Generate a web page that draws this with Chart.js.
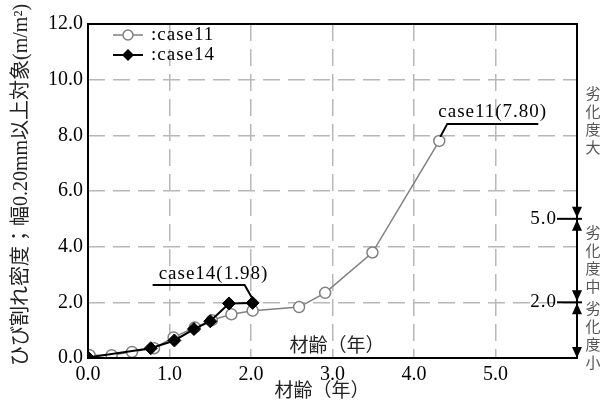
<!DOCTYPE html>
<html>
<head>
<meta charset="utf-8">
<script src="https://cdn.jsdelivr.net/npm/chart.js@4"></script>
<style>
  html, body { margin: 0; padding: 0; background: #fff; }
</style>
</head>
<body>
<canvas id="chart" width="608" height="405"></canvas>
<script>
// 材齢（年）とひび割れ密度
const age11     = [0.02, 0.29, 0.54, 0.81, 1.05, 1.31, 1.52, 1.76, 2.02, 2.59, 2.91, 3.49, 4.31];
const density11 = [0.10, 0.10, 0.22, 0.35, 0.74, 1.10, 1.36, 1.57, 1.70, 1.83, 2.34, 3.79, 7.80];
const age14     = [0.00, 0.77, 1.06, 1.30, 1.50, 1.73, 2.02];
const density14 = [0.02, 0.35, 0.63, 1.04, 1.32, 1.96, 1.98];

const xTicks = [0, 1, 2, 3, 4, 5];
const yTicks = [0, 2, 4, 6, 8, 10, 12];
const levelBounds = [5.0, 2.0];   // 劣化度の境界

const SERIF = "'Liberation Serif', 'Noto Sans CJK JP', serif";
const pts = (xs, ys) => xs.map((x, i) => ({ x: x, y: ys[i] }));

function triangle(ctx, x, tipY, dir) {
    // dir = 1 : 下向き, -1 : 上向き
    ctx.beginPath();
    ctx.moveTo(x, tipY);
    ctx.lineTo(x - 5, tipY - dir * 11);
    ctx.lineTo(x + 5, tipY - dir * 11);
    ctx.closePath();
    ctx.fill();
}

const extras = {
    id: 'extras',
    beforeInit(chart) {
        // 参照図の数字は字間が広い
        chart.ctx.letterSpacing = '1px';
    },
    afterDraw(chart) {
        const { ctx, chartArea: a, scales: { x: xs, y: ys } } = chart;
        ctx.save();

        // 枠
        ctx.strokeStyle = '#000';
        ctx.lineWidth = 2;
        ctx.strokeRect(a.left, a.top, a.right - a.left, a.bottom - a.top);
        ctx.beginPath(); ctx.moveTo(a.right, a.top); ctx.lineTo(a.right, a.bottom); ctx.stroke();

        // 軸タイトル
        ctx.letterSpacing = '0px';
        ctx.fillStyle = '#222';
        ctx.font = '19px ' + SERIF;
        ctx.textAlign = 'center';
        ctx.textBaseline = 'middle';
        ctx.fillText('材齢（年）', 322, 392);
        ctx.fillText('材齢（年）', 337, 347);
        ctx.save();
        ctx.translate(22, 185);
        ctx.rotate(-Math.PI / 2);
        ctx.font = '20px ' + SERIF;
        ctx.fillText('ひび割れ密度；幅0.20mm以上対象(m/m²)', 0, 0);
        ctx.restore();

        ctx.letterSpacing = '1px';
        // 凡例
        const lx = a.left + 25;
        [[35, '#808080', 'circle', ':case11'], [55, '#000', 'diamond', ':case14']].forEach(r => {
            const [y, col, shape, label] = r;
            ctx.strokeStyle = col;
            ctx.lineWidth = shape === 'circle' ? 1.5 : 2;
            ctx.beginPath(); ctx.moveTo(lx, y); ctx.lineTo(lx + 30, y); ctx.stroke();
            if (shape === 'circle') {
                ctx.fillStyle = '#fff';
                ctx.beginPath(); ctx.arc(lx + 15, y, 5, 0, Math.PI * 2); ctx.fill(); ctx.stroke();
            } else {
                ctx.fillStyle = '#000';
                ctx.beginPath();
                ctx.moveTo(lx + 15, y - 6); ctx.lineTo(lx + 21, y);
                ctx.lineTo(lx + 15, y + 6); ctx.lineTo(lx + 9, y);
                ctx.closePath(); ctx.fill();
            }
            ctx.fillStyle = '#000';
            ctx.textAlign = 'left';
            ctx.fillText(label, lx + 38, y);
        });

        // 注記 case11 / case14
        ctx.strokeStyle = '#000';
        ctx.lineWidth = 2;
        const n11 = age11.length - 1;
        const p11x = xs.getPixelForValue(age11[n11]), p11y = ys.getPixelForValue(density11[n11]);
        ctx.beginPath();
        ctx.moveTo(p11x + 1, p11y - 4);
        ctx.lineTo(p11x + 8, p11y - 17);
        ctx.lineTo(p11x + 99, p11y - 17);
        ctx.stroke();
        ctx.textAlign = 'left';
        ctx.fillText('case11(' + density11[n11].toFixed(2) + ')', p11x - 1, p11y - 29);

        const n14 = age14.length - 1;
        const p14x = xs.getPixelForValue(age14[n14]), p14y = ys.getPixelForValue(density14[n14]);
        ctx.beginPath();
        ctx.moveTo(p14x, p14y - 4);
        ctx.lineTo(p14x - 8, p14y - 18);
        ctx.lineTo(p14x - 100, p14y - 18);
        ctx.stroke();
        ctx.fillText('case14(' + density14[n14].toFixed(2) + ')', p14x - 94, p14y - 29);

        // 右側：劣化度
        const rx = a.right;
        ctx.fillStyle = '#000';
        levelBounds.forEach(v => {
            const y = ys.getPixelForValue(v);
            ctx.beginPath(); ctx.moveTo(rx - 20, y); ctx.lineTo(rx + 5, y); ctx.stroke();
            triangle(ctx, rx, y - 1, 1);
            triangle(ctx, rx, y + 1, -1);
            ctx.textAlign = 'right';
            ctx.fillText(v.toFixed(1), rx - 20, y);
        });
        triangle(ctx, rx, a.bottom, 1);

        ctx.letterSpacing = '0px';
        ctx.fillStyle = '#555';
        ctx.font = '15px "Noto Sans CJK JP", sans-serif';
        ctx.textAlign = 'center';
        const col = (chars, y0) => chars.split('').forEach((c, i) => ctx.fillText(c, rx + 16, y0 + i * 18));
        col('劣化度大', 93);
        col('劣化度中', 232);
        col('劣化度小', 308);

        ctx.restore();
    }
};

new Chart(document.getElementById('chart'), {
    type: 'scatter',
    data: {
        datasets: [
            {
                label: ':case14',
                data: pts(age14, density14),
                showLine: true,
                order: 0,
                borderColor: '#000',
                borderWidth: 2,
                pointStyle: 'rectRot',
                pointRadius: 6.5,
                pointBackgroundColor: '#000',
                pointBorderColor: '#000',
                pointBorderWidth: 1
            },
            {
                label: ':case11',
                data: pts(age11, density11),
                showLine: true,
                order: 1,
                borderColor: '#808080',
                borderWidth: 1.5,
                pointStyle: 'circle',
                pointRadius: 5.5,
                pointBackgroundColor: '#fff',
                pointBorderColor: '#808080',
                pointBorderWidth: 1.5
            }
        ]
    },
    options: {
        responsive: false,
        animation: false,
        devicePixelRatio: 1,
        layout: { padding: { top: 24, right: 31, left: 0, bottom: 0 } },
        plugins: { legend: { display: false }, tooltip: { enabled: false } },
        scales: {
            x: {
                type: 'linear', min: 0, max: 6,
                afterBuildTicks: s => { s.ticks = xTicks.concat([6]).map(v => ({ value: v })); },
                afterFit: s => { s.height = 47; },
                ticks: {
                    color: '#000', padding: 5,
                    font: { family: SERIF, size: 20 },
                    callback: v => (v <= 5 ? v.toFixed(1) : '')
                },
                grid: {
                    drawTicks: false, lineWidth: 1.5,
                    color: c => (c.tick && c.tick.value > 0 && c.tick.value < 6 ? '#b8b8b8' : 'rgba(0,0,0,0)')
                },
                border: { display: false, dash: [17, 8] }
            },
            y: {
                type: 'linear', min: 0, max: 12,
                afterBuildTicks: s => { s.ticks = yTicks.map(v => ({ value: v })); },
                afterFit: s => { s.width = 88; },
                ticks: {
                    color: '#000', padding: 5,
                    font: { family: SERIF, size: 20 },
                    callback: v => v.toFixed(1)
                },
                grid: {
                    drawTicks: false, lineWidth: 1.5,
                    color: c => (c.tick && c.tick.value > 0 && c.tick.value < 12 ? '#b8b8b8' : 'rgba(0,0,0,0)')
                },
                border: { display: false, dash: [17, 8] }
            }
        }
    },
    plugins: [extras]
});
</script>
</body>
</html>
